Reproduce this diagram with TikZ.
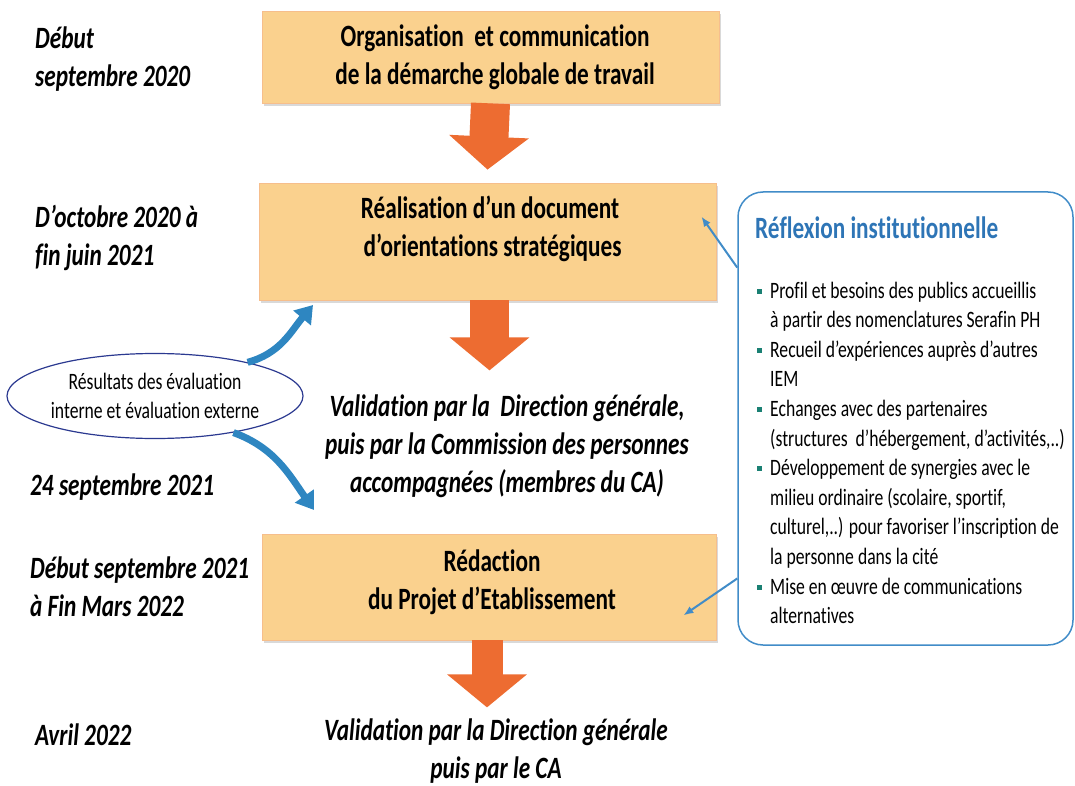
\documentclass[tikz,border=0pt]{standalone}
\usepackage{fontspec}
\setmainfont{Carlito}[FakeStretch=0.75,Ligatures=NoCommon]
\usepackage{tikz}
\usetikzlibrary{arrows.meta,positioning,shapes.geometric,shadows,calc}
\definecolor{saumon}{RGB}{250,209,142}
\definecolor{bordboite}{RGB}{246,190,140}
\definecolor{orangef}{RGB}{237,108,49}
\definecolor{bleuf}{RGB}{46,134,193}
\definecolor{bleucadre}{RGB}{65,140,200}
\definecolor{bleutitre}{RGB}{46,117,182}
\definecolor{bleuellipse}{RGB}{43,57,144}
\definecolor{sarcelle}{RGB}{26,128,115}

\begin{document}
\begin{tikzpicture}[x=1pt,y=-1pt,
boite/.style={rectangle, draw=bordboite, line width=0.8pt, fill=saumon, drop shadow={shadow xshift=2pt,shadow yshift=-3pt,opacity=0.3}},
grand/.style={font=\fontsize{31}{38}\selectfont\bfseries, align=center, inner sep=0pt},
date/.style={font=\fontsize{31}{38}\selectfont\bfseries\itshape, align=left, anchor=west, inner sep=0pt},
valid/.style={font=\fontsize{31}{38}\selectfont\bfseries\itshape, align=center, inner sep=0pt},
petit/.style={font=\fontsize{23.5}{29.6}\selectfont, inner sep=0pt},
fleche/.style={draw=orangef, line width=39pt, -{Triangle[length=33pt,width=78pt]}},
flechebleue/.style={draw=bleuf, line width=7pt, -{Triangle[length=17pt,width=22pt]}},
lien/.style={draw=bleucadre, line width=2pt, -{Latex[length=10pt,width=8pt]}},
puce/.style={rectangle, fill=sarcelle, minimum size=5pt, inner sep=0pt}
]
\useasboundingbox (0,0) rectangle (1075,786);

\node[boite, minimum width=457pt, minimum height=92pt] (box1) at (490.5,57) {};
\node[grand] (t1) at (495,57) {Organisation\ \ et communication\\de la démarche globale de travail};
\node[boite, minimum width=457pt, minimum height=117pt] (box2) at (487.5,241.5) {};
\node[grand] (t2) at (490,229) {Réalisation d’un document\\\ d’orientations stratégiques};
\node[boite, minimum width=454pt, minimum height=106pt] (box3) at (489,587) {};
\node[grand] (t3) at (492,582) {Rédaction\\du Projet d’Etablissement};

\node[valid] (v1) at (507,446) {Validation\ par la\ \ Direction générale,\\puis par la Commission des personnes\\accompagnées (membres du CA)};
\node[valid] (v2) at (496,751) {Validation\ par la Direction générale\\puis par le CA};

\node[date] (d1) at (35,59) {Début\\septembre 2020};
\node[date] (d2) at (35,238) {D’octobre 2020 à\\fin juin 2021};
\node[date] (d3) at (30,487) {24 septembre\ 2021};
\node[date] (d4) at (30,587) {Début septembre 2021\\à Fin Mars 2022};
\node[date] (d5) at (35,735) {Avril 2022};

\coordinate (bout2) at ($(box2.south)+(2,70)$);
\coordinate (bout3) at ($(box3.south)+(-2,67)$);
\draw[fleche] (box1.south) -- ([yshift=13pt]box2.north);
\draw[fleche] (box2.south -| bout2) -- (bout2);
\draw[fleche, line width=31pt] (box3.south -| bout3) -- (bout3);

\node[ellipse, draw=bleuellipse, line width=1.2pt, minimum width=296pt, minimum height=85pt, petit, align=center] (eval) at (155,396) {Résultats des évaluation\\interne et évaluation externe};
\coordinate (haut) at (313,305);
\coordinate (bas) at (314,510);
\draw[flechebleue] (eval.20) to[out=15,in=230] (haut);
\draw[flechebleue] (eval.-25) to[out=-20,in=125] (bas);

\node[draw=bleucadre, line width=1.5pt, rounded corners=25pt, minimum width=335pt, minimum height=453pt] (reflex) at (905.5,418.5) {};
\node[font=\fontsize{31}{38}\selectfont\bfseries, text=bleutitre, anchor=west, inner sep=0pt] (titre) at (755,228) {Réflexion institutionnelle};
\foreach \t [count=\i from 0] in {Profil et besoins des publics accueillis, à partir des nomenclatures Serafin PH, Recueil d’expériences auprès d’autres, IEM, Echanges avec des partenaires, {(structures\ \ d’hébergement, d’activités,..)}, Développement\ de synergies avec le, {milieu ordinaire (scolaire, sportif,}, {culturel,..) pour favoriser l’inscription de}, la personne dans la cité, Mise en œuvre de communications, alternatives}
  \node[petit, anchor=base west] (l\i) at (770,298+29.6*\i) {\t};
\foreach \i in {0,2,4,6,10}
  \node[puce] at ([xshift=-11pt,yshift=7pt]l\i.base west) {};

\draw[lien] ($(reflex.north west)!0.168!(reflex.south west)$) -- ($(box2.north east)+(-15,34)$);
\draw[lien] ($(reflex.north west)!0.852!(reflex.south west)$) -- ($(box3.south east)+(-33,-25)$);
\end{tikzpicture}
\end{document}
